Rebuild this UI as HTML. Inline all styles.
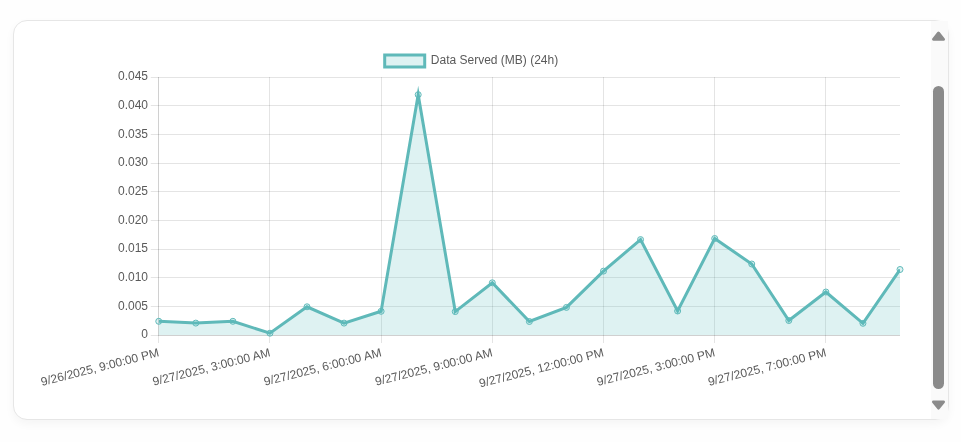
<!DOCTYPE html>
<html><head><meta charset="utf-8"><title>Data Served</title>
<style>
html,body{margin:0;padding:0;}
body{width:961px;height:442px;overflow:hidden;background:#fefefe;font-family:"Liberation Sans",sans-serif;position:relative;}
.card{position:absolute;left:13px;top:20px;width:934px;height:398px;background:#fff;border:1px solid #e6e6e6;border-radius:14px;box-shadow:0 4px 10px rgba(0,0,0,0.04);}
.track{position:absolute;left:931px;top:21px;width:17px;height:398px;background:#fafafa;}
.thumb{position:absolute;left:933px;top:86px;width:11px;height:303px;border-radius:5.5px;background:#8a8a8a;}
</style></head><body>
<div class="card"></div>
<div class="track"></div>
<div class="thumb"></div>
<svg width="961" height="442" viewBox="0 0 961 442" style="position:absolute;left:0;top:0;will-change:transform;filter:blur(0.3px)">
<line x1="150.75" y1="77.5" x2="900" y2="77.5" stroke="rgba(0,0,0,0.105)" stroke-width="1"/>
<line x1="150.75" y1="105.5" x2="900" y2="105.5" stroke="rgba(0,0,0,0.105)" stroke-width="1"/>
<line x1="150.75" y1="134.5" x2="900" y2="134.5" stroke="rgba(0,0,0,0.105)" stroke-width="1"/>
<line x1="150.75" y1="163.5" x2="900" y2="163.5" stroke="rgba(0,0,0,0.105)" stroke-width="1"/>
<line x1="150.75" y1="191.5" x2="900" y2="191.5" stroke="rgba(0,0,0,0.105)" stroke-width="1"/>
<line x1="150.75" y1="220.5" x2="900" y2="220.5" stroke="rgba(0,0,0,0.105)" stroke-width="1"/>
<line x1="150.75" y1="249.5" x2="900" y2="249.5" stroke="rgba(0,0,0,0.105)" stroke-width="1"/>
<line x1="150.75" y1="277.5" x2="900" y2="277.5" stroke="rgba(0,0,0,0.105)" stroke-width="1"/>
<line x1="150.75" y1="306.5" x2="900" y2="306.5" stroke="rgba(0,0,0,0.105)" stroke-width="1"/>
<line x1="150.75" y1="335.5" x2="900" y2="335.5" stroke="rgba(0,0,0,0.105)" stroke-width="1"/>
<line x1="158.5" y1="77" x2="158.5" y2="343" stroke="rgba(0,0,0,0.105)" stroke-width="1"/>
<line x1="269.5" y1="77" x2="269.5" y2="343" stroke="rgba(0,0,0,0.105)" stroke-width="1"/>
<line x1="381.5" y1="77" x2="381.5" y2="343" stroke="rgba(0,0,0,0.105)" stroke-width="1"/>
<line x1="492.5" y1="77" x2="492.5" y2="343" stroke="rgba(0,0,0,0.105)" stroke-width="1"/>
<line x1="603.5" y1="77" x2="603.5" y2="343" stroke="rgba(0,0,0,0.105)" stroke-width="1"/>
<line x1="714.5" y1="77" x2="714.5" y2="343" stroke="rgba(0,0,0,0.105)" stroke-width="1"/>
<line x1="825.5" y1="77" x2="825.5" y2="343" stroke="rgba(0,0,0,0.105)" stroke-width="1"/>
<line x1="158.5" y1="77" x2="158.5" y2="336" stroke="rgba(0,0,0,0.09)" stroke-width="1"/>
<line x1="158.75" y1="335.5" x2="900" y2="335.5" stroke="rgba(0,0,0,0.09)" stroke-width="1"/>
<clipPath id="c"><rect x="158.75" y="75.5" width="741.25" height="261.0"/></clipPath>
<polygon points="158.75,335.00 158.75,321.30 195.81,323.10 232.88,321.30 269.94,333.20 307.00,306.80 344.06,323.10 381.12,311.30 418.19,94.70 455.25,311.60 492.31,282.80 529.38,321.50 566.44,307.40 603.50,271.10 640.56,239.60 677.62,311.00 714.69,238.50 751.75,264.00 788.81,320.50 825.88,292.00 862.94,323.30 900.00,269.50 900.00,335.00" fill="rgba(78,186,186,0.19)"/>
<polyline points="158.75,321.30 195.81,323.10 232.88,321.30 269.94,333.20 307.00,306.80 344.06,323.10 381.12,311.30 418.19,94.70 455.25,311.60 492.31,282.80 529.38,321.50 566.44,307.40 603.50,271.10 640.56,239.60 677.62,311.00 714.69,238.50 751.75,264.00 788.81,320.50 825.88,292.00 862.94,323.30 900.00,269.50" fill="none" stroke="#5fb9b9" stroke-width="3" stroke-linejoin="miter" stroke-miterlimit="10" clip-path="url(#c)"/>
<circle cx="158.75" cy="321.30" r="3" fill="rgba(78,186,186,0.19)" stroke="#5fb9b9" stroke-width="1"/>
<circle cx="195.81" cy="323.10" r="3" fill="rgba(78,186,186,0.19)" stroke="#5fb9b9" stroke-width="1"/>
<circle cx="232.88" cy="321.30" r="3" fill="rgba(78,186,186,0.19)" stroke="#5fb9b9" stroke-width="1"/>
<circle cx="269.94" cy="333.20" r="3" fill="rgba(78,186,186,0.19)" stroke="#5fb9b9" stroke-width="1"/>
<circle cx="307.00" cy="306.80" r="3" fill="rgba(78,186,186,0.19)" stroke="#5fb9b9" stroke-width="1"/>
<circle cx="344.06" cy="323.10" r="3" fill="rgba(78,186,186,0.19)" stroke="#5fb9b9" stroke-width="1"/>
<circle cx="381.12" cy="311.30" r="3" fill="rgba(78,186,186,0.19)" stroke="#5fb9b9" stroke-width="1"/>
<circle cx="418.19" cy="94.70" r="3" fill="rgba(78,186,186,0.19)" stroke="#5fb9b9" stroke-width="1"/>
<circle cx="455.25" cy="311.60" r="3" fill="rgba(78,186,186,0.19)" stroke="#5fb9b9" stroke-width="1"/>
<circle cx="492.31" cy="282.80" r="3" fill="rgba(78,186,186,0.19)" stroke="#5fb9b9" stroke-width="1"/>
<circle cx="529.38" cy="321.50" r="3" fill="rgba(78,186,186,0.19)" stroke="#5fb9b9" stroke-width="1"/>
<circle cx="566.44" cy="307.40" r="3" fill="rgba(78,186,186,0.19)" stroke="#5fb9b9" stroke-width="1"/>
<circle cx="603.50" cy="271.10" r="3" fill="rgba(78,186,186,0.19)" stroke="#5fb9b9" stroke-width="1"/>
<circle cx="640.56" cy="239.60" r="3" fill="rgba(78,186,186,0.19)" stroke="#5fb9b9" stroke-width="1"/>
<circle cx="677.62" cy="311.00" r="3" fill="rgba(78,186,186,0.19)" stroke="#5fb9b9" stroke-width="1"/>
<circle cx="714.69" cy="238.50" r="3" fill="rgba(78,186,186,0.19)" stroke="#5fb9b9" stroke-width="1"/>
<circle cx="751.75" cy="264.00" r="3" fill="rgba(78,186,186,0.19)" stroke="#5fb9b9" stroke-width="1"/>
<circle cx="788.81" cy="320.50" r="3" fill="rgba(78,186,186,0.19)" stroke="#5fb9b9" stroke-width="1"/>
<circle cx="825.88" cy="292.00" r="3" fill="rgba(78,186,186,0.19)" stroke="#5fb9b9" stroke-width="1"/>
<circle cx="862.94" cy="323.30" r="3" fill="rgba(78,186,186,0.19)" stroke="#5fb9b9" stroke-width="1"/>
<circle cx="900.00" cy="269.50" r="3" fill="rgba(78,186,186,0.19)" stroke="#5fb9b9" stroke-width="1"/>
<g font-family="Liberation Sans, sans-serif" font-size="12" fill="#5a5a5a">
<text x="148.0" y="80.40" text-anchor="end">0.045</text>
<text x="148.0" y="109.07" text-anchor="end">0.040</text>
<text x="148.0" y="137.73" text-anchor="end">0.035</text>
<text x="148.0" y="166.40" text-anchor="end">0.030</text>
<text x="148.0" y="195.07" text-anchor="end">0.025</text>
<text x="148.0" y="223.73" text-anchor="end">0.020</text>
<text x="148.0" y="252.40" text-anchor="end">0.015</text>
<text x="148.0" y="281.07" text-anchor="end">0.010</text>
<text x="148.0" y="309.73" text-anchor="end">0.005</text>
<text x="148.0" y="338.40" text-anchor="end">0</text>
<text transform="translate(159.75,356.10) rotate(-14.2)" text-anchor="end">9/26/2025, 9:00:00 PM</text>
<text transform="translate(270.94,356.10) rotate(-14.2)" text-anchor="end">9/27/2025, 3:00:00 AM</text>
<text transform="translate(382.12,356.10) rotate(-14.2)" text-anchor="end">9/27/2025, 6:00:00 AM</text>
<text transform="translate(493.31,356.10) rotate(-14.2)" text-anchor="end">9/27/2025, 9:00:00 AM</text>
<text transform="translate(604.50,356.10) rotate(-14.2)" text-anchor="end">9/27/2025, 12:00:00 PM</text>
<text transform="translate(715.69,356.10) rotate(-14.2)" text-anchor="end">9/27/2025, 3:00:00 PM</text>
<text transform="translate(826.88,356.10) rotate(-14.2)" text-anchor="end">9/27/2025, 7:00:00 PM</text>
<text x="430.8" y="64.0">Data Served (MB) (24h)</text>
</g>
<rect x="384.7" y="55.0" width="40" height="12" fill="rgba(78,186,186,0.19)" stroke="#5fb9b9" stroke-width="3"/>
</svg>
<svg width="961" height="442" viewBox="0 0 961 442" style="position:absolute;left:0;top:0">
<path d="M938.5 33.0 L943.6 39.3 L933.4 39.3 Z" fill="#8b8b8b" stroke="#8b8b8b" stroke-width="2.8" stroke-linejoin="round"/>
<path d="M938.5 408.2 L943.6 401.8 L933.4 401.8 Z" fill="#8b8b8b" stroke="#8b8b8b" stroke-width="2.8" stroke-linejoin="round"/>
</svg>
</body></html>
